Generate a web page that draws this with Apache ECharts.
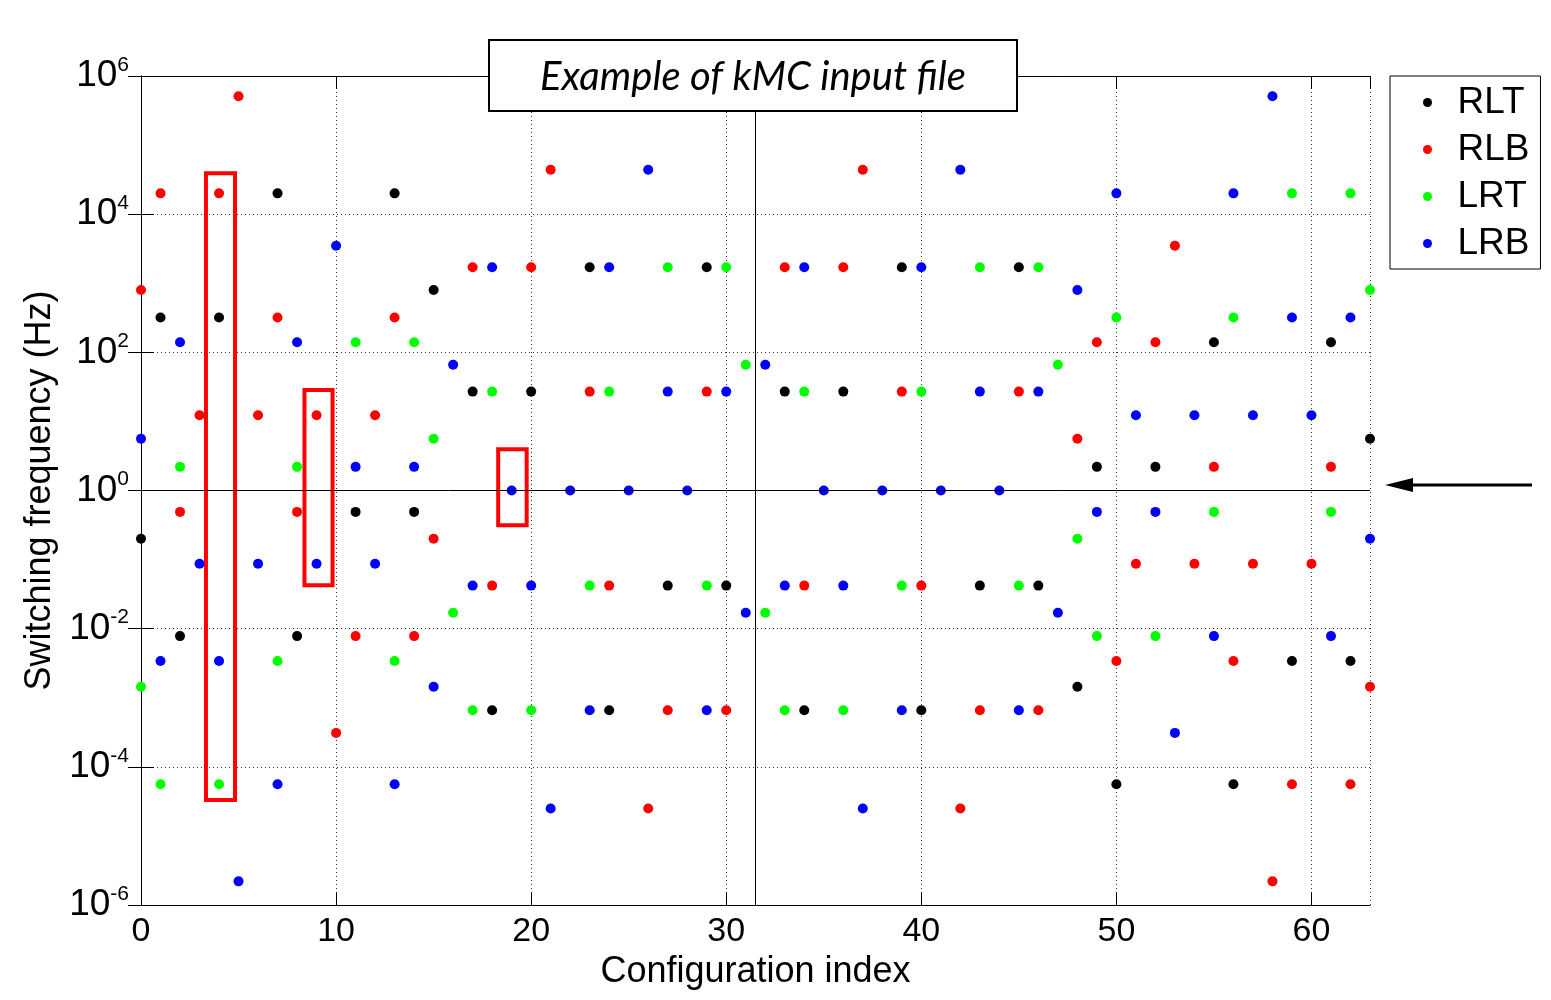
<!DOCTYPE html>
<html>
<head>
<meta charset="utf-8">
<script src="https://cdn.jsdelivr.net/npm/echarts@6/dist/echarts.min.js"></script>
<style>html,body{margin:0;padding:0;background:#fff}#c{width:1551px;height:1000px}</style>
</head>
<body>
<div id="c"></div>
<script>
// Configuration index 0..63; null = not visible in the picture
const seriesNames = ['RLT', 'RLB', 'LRT', 'LRB'];
const seriesColors = ['#000000', '#ff0000', '#00ff00', '#0000ff'];

const RLT = [0.2, 320, 0.0078, null, 320, null, null, 2e4, 0.0078, null,
  null, 0.49, null, 2e4, 0.49, 800, null, 27, 6.6e-4, null,
  27, null, null, 1700, 6.6e-4, null, null, 0.042, null, 1700,
  0.042, null, null, 27, 6.6e-4, null, 27, null, null, 1700,
  6.6e-4, null, null, 0.042, null, 1700, 0.042, null, 0.00144, 2.2,
  5.6e-5, null, 2.2, null, null, 140, 5.6e-5, null, null, 0.0034,
  null, 140, 0.0034, 5.6];

const RLB = [800, 2e4, 0.49, 12.3, 2e4, 5.1e5, 12.3, 320, 0.49, 12.3,
  3.1e-4, 0.0078, 12.3, 320, 0.0078, 0.2, null, 1700, 0.042, null,
  1700, 4.4e4, null, 27, 0.042, null, 2.5e-5, 6.6e-4, null, 27,
  6.6e-4, null, null, 1700, 0.042, null, 1700, 4.4e4, null, 27,
  0.042, null, 2.5e-5, 6.6e-4, null, 27, 6.6e-4, null, 5.6, 140,
  0.0034, 0.087, 140, 3500, 0.087, 2.2, 0.0034, 0.087, 2.2e-6, 5.6e-5,
  0.087, 2.2, 5.6e-5, 0.00144];

const LRT = [0.00144, 5.6e-5, 2.2, null, 5.6e-5, null, null, 0.0034, 2.2, null,
  null, 140, null, 0.0034, 140, 5.6, 0.017, 6.6e-4, 27, null,
  6.6e-4, null, null, 0.042, 27, null, null, 1700, null, 0.042,
  1700, 66, 0.017, 6.6e-4, 27, null, 6.6e-4, null, null, 0.042,
  27, null, null, 1700, null, 0.042, 1700, 66, 0.2, 0.0078,
  320, null, 0.0078, null, null, 0.49, 320, null, null, 2e4,
  null, 0.49, 2e4, 800];

const LRB = [5.6, 0.0034, 140, 0.087, 0.0034, 2.2e-6, 0.087, 5.6e-5, 140, 0.087,
  3500, 2.2, 0.087, 5.6e-5, 2.2, 0.00144, 66, 0.042, 1700, 1,
  0.042, 2.5e-5, 1, 6.6e-4, 1700, 1, 4.4e4, 27, 1, 6.6e-4,
  27, 0.017, 66, 0.042, 1700, 1, 0.042, 2.5e-5, 1, 6.6e-4,
  1700, 1, 4.4e4, 27, 1, 6.6e-4, 27, 0.017, 800, 0.49,
  2e4, 12.3, 0.49, 3.1e-4, 12.3, 0.0078, 2e4, 12.3, 5.1e5, 320,
  12.3, 0.0078, 320, 0.2];

// reference lines (x = 31.5 vertical, y = 1 horizontal)
const refX = 31.5;
const refY = 1;
// highlighted boxes: [xFrom, yFrom, xTo, yTo]
const boxes = [
  [3.33, 3.9e4, 4.82, 3.3e-5],
  [8.38, 28.6, 9.82, 0.0424],
  [18.31, 3.94, 19.77, 0.313]
];
const xTicks = {min: 0, max: 63, interval: 10};
const yTicks = {min: 1e-6, max: 1e6, interval: 2};
const titleText = 'Example of kMC input file';

const allVals = [RLT, RLB, LRT, LRB];
const FONT = 'Liberation Sans';

const series = seriesNames.map((name, k) => {
  const s = {
    name: name,
    type: 'scatter',
    symbol: 'circle',
    symbolSize: 10,
    itemStyle: {color: seriesColors[k], opacity: 1},
    clip: false,
    data: allVals[k].map((v, i) => v == null ? null : [i, v]).filter(d => d)
  };
  if (k === 0) {
    s.markLine = {
      silent: true, symbol: 'none', animation: false,
      label: {show: false},
      lineStyle: {color: '#000', width: 1, type: 'solid'},
      data: [{xAxis: refX}, {yAxis: refY}]
    };
    s.markArea = {
      silent: true, animation: false,
      label: {show: false},
      itemStyle: {color: 'rgba(0,0,0,0)', borderColor: '#ff0000', borderWidth: 4},
      data: boxes.map(b => [{coord: [b[0], b[1]]}, {coord: [b[2], b[3]]}])
    };
  }
  return s;
});

const chart = echarts.init(document.getElementById('c'));
const axisLineStyle = {show: true, lineStyle: {color: '#000', width: 1}};
chart.setOption({
  animation: false,
  backgroundColor: '#fff',
  grid: {left: 141, top: 76, width: 1229, height: 829, containLabel: false},
  xAxis: [{
    type: 'value', position: 'bottom', min: xTicks.min, max: xTicks.max, interval: xTicks.interval,
    axisLine: axisLineStyle,
    axisTick: {show: true, inside: true, length: 13, lineStyle: {color: '#000'}},
    axisLabel: {show: true, showMaxLabel: false, margin: 10, fontFamily: FONT, fontSize: 34, color: '#000'},
    splitLine: {show: true, lineStyle: {color: '#333', width: 1, type: [1, 3]}},
    name: 'Configuration index', nameLocation: 'middle', nameGap: 46,
    nameTextStyle: {fontFamily: FONT, fontSize: 36, color: '#000'}
  }, {
    type: 'value', position: 'top', min: xTicks.min, max: xTicks.max, interval: xTicks.interval,
    axisLine: axisLineStyle,
    axisTick: {show: true, inside: true, length: 13, lineStyle: {color: '#000'}},
    axisLabel: {show: false}, splitLine: {show: false}
  }],
  yAxis: [{
    type: 'log', logBase: 10, position: 'left', min: yTicks.min, max: yTicks.max, interval: yTicks.interval,
    axisLine: axisLineStyle,
    axisTick: {show: true, inside: true, length: 13, lineStyle: {color: '#000'}},
    minorTick: {show: false},
    axisLabel: {
      show: true, margin: 12,
      formatter: function (v) {
        const e = Math.round(Math.log10(v));
        return '{b|10}{e|' + e + '}';
      },
      rich: {
        b: {fontFamily: FONT, fontSize: 37, color: '#000'},
        e: {fontFamily: FONT, fontSize: 21, color: '#000', padding: [0, 0, 22, 0]}
      }
    },
    splitLine: {show: true, lineStyle: {color: '#333', width: 1, type: [1, 3]}},
    name: 'Switching frequency (Hz)', nameLocation: 'middle', nameGap: 78,
    nameTextStyle: {fontFamily: FONT, fontSize: 36, color: '#000'}
  }, {
    type: 'log', logBase: 10, position: 'right', min: yTicks.min, max: yTicks.max, interval: yTicks.interval,
    axisLine: axisLineStyle,
    axisTick: {show: true, inside: true, length: 13, lineStyle: {color: '#000'}},
    axisLabel: {show: false}, splitLine: {show: false}
  }],
  legend: {
    orient: 'vertical', left: 1390, top: 76,
    itemWidth: 50, itemHeight: 9, itemGap: 10,
    padding: [8, 11, 7, 33],
    borderColor: '#000', borderWidth: 1, backgroundColor: '#fff',
    icon: 'circle',
    textStyle: {fontFamily: FONT, fontSize: 37, color: '#000', lineHeight: 35},
    data: seriesNames
  },
  graphic: [
    {type: 'rect', shape: {x: 489, y: 40, width: 528, height: 71}, style: {fill: '#fff', stroke: '#000', lineWidth: 2}, z: 100},
    {type: 'text', x: 753, y: 77, style: {text: titleText, fontFamily: 'Lato', fontStyle: 'italic', fontSize: 40, fill: '#000', align: 'center', verticalAlign: 'middle'}, z: 101},
    {type: 'line', shape: {x1: 1532, y1: 485, x2: 1405, y2: 485}, style: {stroke: '#000', lineWidth: 3}, z: 100},
    {type: 'polygon', shape: {points: [[1385, 485], [1413, 478], [1413, 492]]}, style: {fill: '#000'}, z: 100}
  ],
  series: series
});
</script>
</body>
</html>
